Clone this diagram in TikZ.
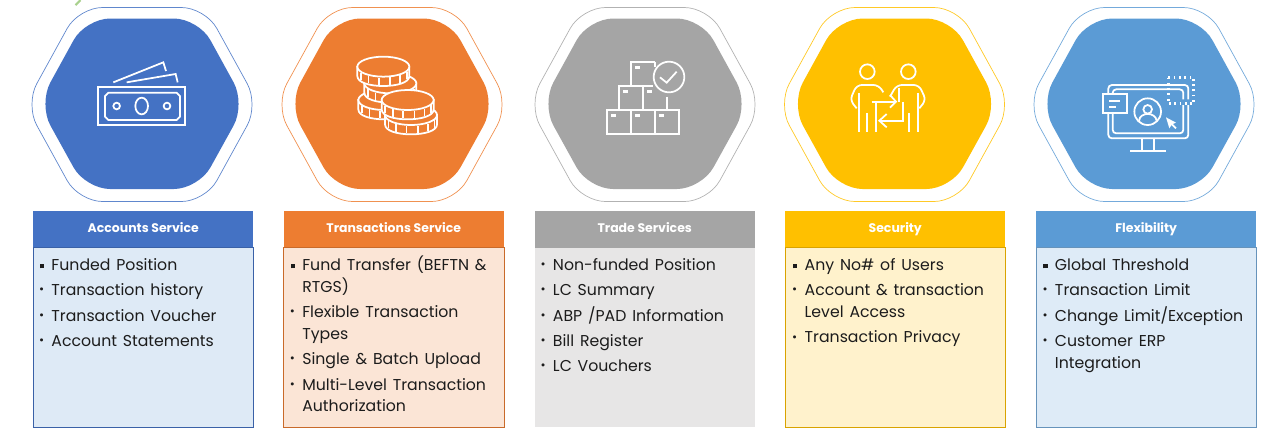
\documentclass[tikz,border=0pt]{standalone}
\usepackage{fontspec}
\setmainfont{Poppins}
\usetikzlibrary{positioning}
\definecolor{accblue}{HTML}{4472C4}
\definecolor{accbg}{HTML}{DEEAF6}
\definecolor{txnorange}{HTML}{ED7D31}
\definecolor{txnbg}{HTML}{FBE5D6}
\definecolor{tradegrey}{HTML}{A5A5A5}
\definecolor{tradebg}{HTML}{E7E6E6}
\definecolor{secyellow}{HTML}{FFC000}
\definecolor{secbg}{HTML}{FFF2CC}
\definecolor{flexblue}{HTML}{5B9BD5}
\definecolor{flexbg}{HTML}{DEEBF7}
\definecolor{itemtext}{HTML}{1C1C1C}
\definecolor{scrapgreen}{HTML}{A9D18E}
\newcommand{\sqbul}{\rule[1.3pt]{2.4pt}{2.4pt}}
\newcommand{\dotbul}{\raisebox{1.1pt}{\fontsize{7}{7}\selectfont •}}
\newenvironment{cardlist}{%
  \fontsize{8.95}{12.47}\selectfont
  \begin{list}{\dotbul}{\setlength{\topsep}{0pt}\setlength{\partopsep}{0pt}%
    \setlength{\parsep}{0pt}\setlength{\itemsep}{1.87pt}%
    \setlength{\leftmargin}{10.2pt}\setlength{\labelwidth}{5.5pt}\setlength{\labelsep}{4.2pt}}}
  {\end{list}}
% rounded hexagon with a thin ring round it: centre x, colour
\newcommand{\hexring}[2]{%
  \draw[#2!85, line width=0.4pt, rounded corners=13.5pt]
    (#1-116.7,104.5) -- (#1-63.3,7.5) -- (#1+63.3,7.5) -- (#1+116.7,104.5)
    -- (#1+63.3,201.5) -- (#1-63.3,201.5) -- cycle;
  \fill[#2, rounded corners=14pt]
    (#1-103.5,104) -- (#1-56.5,18.5) -- (#1+56.5,18.5) -- (#1+103.5,104)
    -- (#1+56.5,189) -- (#1-56.5,189) -- cycle;}
\newcommand{\coin}[2]{%
  \draw[icon, fill=txnorange] (#1-78,#2) -- (#1-78,#2+28)
    .. controls (#1-78,#2+48) and (#1-40,#2+58) .. (#1,#2+58)
    .. controls (#1+40,#2+58) and (#1+78,#2+48) .. (#1+78,#2+28) -- (#1+78,#2) -- cycle;
  \draw[icon, fill=txnorange] (#1,#2) ellipse [x radius=78, y radius=30];
  \foreach \a in {25,50,...,155}
    \draw[icon] ({#1+78*cos(\a)},{#2+30*sin(\a)+3}) -- ++(0,22);}
\begin{document}
\begin{tikzpicture}[
    x=0.02cm, y=-0.02cm,
    node distance = 0pt,
    icon/.style = {draw=white, line width=1pt},
    cardhead/.style = {anchor=north west, minimum width=4.41cm, minimum height=0.73cm,
      inner sep=0pt, outer sep=0pt, text=white, text height=5.4pt, text depth=1.6pt,
      font=\fontsize{7.1}{8}\selectfont\bfseries},
    cardbody/.style = {minimum width=4.41cm, minimum height=3.6cm, inner sep=0pt,
      outer sep=0pt, line width=0.4pt},
    cardtext/.style = {anchor=north west, inner sep=0pt, outer sep=0pt, text width=4.3cm,
      align=left, text=itemtext}
    ]
  \useasboundingbox (0,0) rectangle (1280,441);
  \draw[scrapgreen, line width=1.2pt] (75.5,5) -- (80.5,0);
  % hexagons
  \hexring{142}{accblue}
  \hexring{392}{txnorange}
  \hexring{645}{tradegrey}
  \hexring{894.5}{secyellow}
  \hexring{1144}{flexblue}
  % cards
  \node (acchead) [cardhead, fill=accblue] at (33,211) {Accounts Service};
  \node (accbody) [cardbody, below=of acchead, draw=accblue!85!black, fill=accbg] {};
  \node (acctext) [cardtext, below right=0.7pt and 0.3pt of accbody.north west] {%
    \begin{cardlist}
      \item[\sqbul] Funded Position
      \item Transaction history
      \item Transaction Voucher
      \item Account Statements
    \end{cardlist}};
  \node (txnhead) [cardhead, fill=txnorange] at (283.5,211) {Transactions Service};
  \node (txnbody) [cardbody, below=of txnhead, draw=txnorange!85!black, fill=txnbg] {};
  \node (txntext) [cardtext, below right=0.7pt and 0.5pt of txnbody.north west] {%
    \begin{cardlist}
      \item[\sqbul] Fund Transfer (BEFTN \&\\ RTGS)
      \item Flexible Transaction\\ Types
      \item Single \& Batch Upload
      \item Multi-Level Transaction\\ Authorization
    \end{cardlist}};
  \node (tradehead) [cardhead, fill=tradegrey] at (534.5,211) {Trade Services};
  \node (tradebody) [cardbody, below=of tradehead, fill=tradebg] {};
  \node (tradetext) [cardtext, below right=0.7pt and 0.3pt of tradebody.north west] {%
    \begin{cardlist}
      \item Non-funded Position
      \item LC Summary
      \item ABP /PAD Information
      \item Bill Register
      \item LC Vouchers
    \end{cardlist}};
  \node (sechead) [cardhead, fill=secyellow] at (785,211) {Security};
  \node (secbody) [cardbody, below=of sechead, draw=secyellow!85!black, fill=secbg] {};
  \node (sectext) [cardtext, below right=0.7pt and 1pt of secbody.north west] {%
    \begin{cardlist}
      \item[\sqbul] Any No\# of Users
      \item Account \& transaction\\ Level Access
      \item Transaction Privacy
    \end{cardlist}};
  \node (flexhead) [cardhead, fill=flexblue] at (1036,211) {Flexibility};
  \node (flexbody) [cardbody, below=of flexhead, draw=flexblue!70!gray, fill=flexbg] {};
  \node (flextext) [cardtext, below right=0.7pt and 0.6pt of flexbody.north west] {%
    \begin{cardlist}
      \item[\sqbul] Global Threshold
      \item Transaction Limit
      \item Change Limit/Exception
      \item Customer ERP\\ Integration
    \end{cardlist}};
  % banknotes
  \begin{scope}[scale=1/3]
    \draw[icon] (295,260) rectangle (556,376);
    \draw[icon] (325,278) -- (530,278) -- (540,288) -- (540,350) -- (530,360) -- (325,360)
      -- (315,350) -- (315,288) -- cycle;
    \draw[icon] (425,318) ellipse [x radius=19, y radius=25];
    \draw[icon] (350,318) circle (10);
    \draw[icon] (501,318) circle (10);
    \draw[icon] (340,247) -- (490,187) -- (498,213);
    \draw[icon] (380,247) -- (527,222) -- (533,247);
  \end{scope}
  % coins
  \begin{scope}[shift={(346,50)}, scale=1/3]
    \coin{115}{150}
    \coin{133}{100}
    \coin{112}{50}
    \coin{195}{195}
    \coin{185}{150}
  \end{scope}
  % boxes with a check mark
  \begin{scope}[shift={(520,0)}, scale=1/3]
    \draw[icon] (260,330) rectangle (332,402);
    \draw[icon] (332,330) rectangle (405,402);
    \draw[icon] (405,330) rectangle (478,402);
    \draw[icon] (297,330) -- (297,258) -- (400,258);
    \draw[icon] (369,258) -- (369,330);
    \draw[icon] (441,290) -- (441,330);
    \draw[icon] (332,258) -- (332,186) -- (405,186);
    \draw[icon] (405,186) -- (405,200);
    \draw[icon] (447,231) circle (46);
    \draw[icon] (420,232) -- (440,248) -- (470,215);
    \foreach \bx/\by in {345/198, 310/270, 381/270, 274/342, 345/342, 418/342}
      \fill[white] (\bx,\by) rectangle ++(15,10);
  \end{scope}
  % two people
  \begin{scope}[shift={(840,55)}, scale=1/3]
    \draw[icon] (82,50) circle (22);
    \draw[icon] (205,50) circle (22);
    \draw[icon, rounded corners=3pt] (130,112) -- (116,90) -- (50,90) -- (30,135) -- (50,160);
    \draw[icon] (58,115) -- (58,232);
    \draw[icon] (82,175) -- (82,232);
    \draw[icon] (108,140) -- (108,232);
    \draw[icon] (95,140) -- (167,140);
    \draw[icon] (150,120) -- (168,140) -- (150,158);
    \draw[icon] (190,140) -- (190,197) -- (120,197);
    \draw[icon] (140,177) -- (118,197) -- (140,217);
    \draw[icon] (207,175) -- (207,232);
    \draw[icon] (235,115) -- (235,232);
    \draw[icon, rounded corners=3pt] (150,125) -- (170,90) -- (237,90) -- (258,135) -- (238,160);
    \draw[icon] (176,100) -- (176,140);
  \end{scope}
  % monitor
  \begin{scope}[shift={(1090,70)}, scale=1/3]
    \draw[icon, rounded corners=2pt] (55,73) -- (55,45) -- (295,45) -- (295,88);
    \draw[icon, rounded corners=2pt] (68,73) -- (68,58) -- (280,58) -- (280,88);
    \draw[icon, rounded corners=2pt] (55,130) -- (55,205) -- (295,205) -- (295,105);
    \draw[icon, rounded corners=2pt] (68,130) -- (68,190) -- (280,190) -- (280,105);
    \draw[icon] (38,73) rectangle (110,130);
    \draw[icon] (58,92) -- (90,92);
    \draw[icon] (58,110) -- (78,110);
    \draw[icon] (173,125) circle (40);
    \draw[icon] (173,118) circle (13);
    \draw[icon] (147,152) .. controls (150,125) and (196,125) .. (200,152);
    \fill[white] (228,142) -- (258,158) -- (246,163) -- (238,175) -- cycle;
    \draw[icon] (245,162) -- (258,175);
    \draw[icon, dotted, line width=1.4pt] (235,23) rectangle (311,100);
    \draw[icon] (155,205) -- (155,242);
    \draw[icon] (192,205) -- (192,242);
    \draw[icon] (120,243) -- (228,243);
  \end{scope}
\end{tikzpicture}
\end{document}
